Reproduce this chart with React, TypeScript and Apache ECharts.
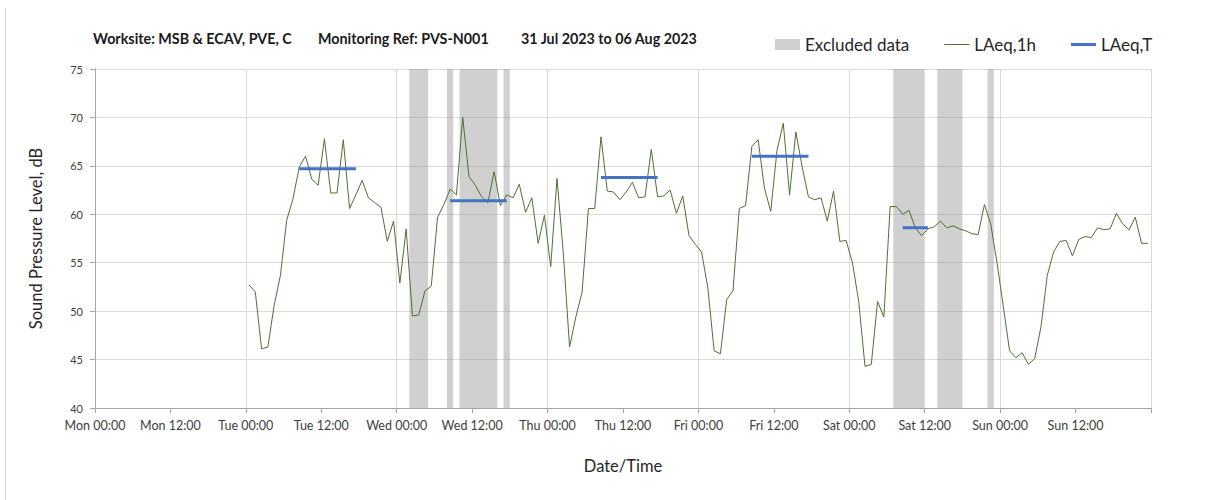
import React, { useEffect, useRef } from 'react';
import * as echarts from 'echarts';

// X axis: hours since Mon 00:00, tick every 12 h
const xTickLabels = [
  'Mon 00:00', 'Mon 12:00', 'Tue 00:00', 'Tue 12:00', 'Wed 00:00', 'Wed 12:00',
  'Thu 00:00', 'Thu 12:00', 'Fri 00:00', 'Fri 12:00', 'Sat 00:00', 'Sat 12:00',
  'Sun 00:00', 'Sun 12:00',
];

// LAeq,1h hourly values, first value plotted at Tue 00:30 (hour 24.5), one per hour
const firstHour = 24.5;
const laeq1h = [
  52.7, 52.0, 46.1, 46.3, 50.6, 53.7, 59.4, 61.6, 64.9, 66.0, 63.6, 63.0,
  67.8, 62.2, 62.2, 67.7, 60.6, 62.0, 63.5, 61.7, 61.2, 60.7, 57.2, 59.3,
  52.9, 58.5, 49.5, 49.6, 52.1, 52.6, 59.7, 61.0, 62.6, 62.0, 70.0, 63.9,
  63.0, 61.8, 61.2, 64.4, 60.9, 62.0, 61.7, 63.1, 60.2, 61.7, 57.0, 59.9,
  54.6, 63.7, 56.0, 46.3, 49.4, 52.0, 60.6, 60.6, 68.0, 62.4, 62.3, 61.5,
  62.3, 63.3, 61.7, 61.8, 66.7, 61.8, 61.9, 62.5, 60.1, 61.9, 57.8, 56.9,
  56.1, 52.4, 45.9, 45.6, 51.2, 52.1, 60.6, 60.9, 67.0, 67.7, 62.7, 60.3,
  66.6, 69.4, 62.0, 68.5, 64.9, 61.8, 61.5, 61.7, 59.3, 62.4, 57.2, 57.3,
  55.0, 51.0, 44.3, 44.5, 51.0, 49.4, 60.8, 60.8, 60.0, 60.4, 58.6, 57.8,
  58.5, 58.7, 59.3, 58.6, 58.8, 58.5, 58.3, 58.0, 57.9, 61.0, 59.0, 55.0,
  50.5, 45.9, 45.2, 45.7, 44.5, 45.1, 48.4, 53.7, 56.1, 57.2, 57.3, 55.7,
  57.4, 57.7, 57.6, 58.6, 58.4, 58.5, 60.1, 59.0, 58.4, 59.7, 57.0, 57.0,
];

// LAeq,T daytime periods (hours since Mon 00:00)
const periodStart = [32.5, 56.5, 80.5, 104.5, 128.5];
const periodEnd = [41.5, 65.5, 89.5, 113.5, 132.5];
const periodValue = [64.7, 61.4, 63.8, 66.0, 58.6];

// Excluded data bands (hours since Mon 00:00)
const bandStart = [50, 56, 58, 65, 127, 134, 142];
const bandEnd = [53, 57, 64, 66, 132, 138, 143];

const FONT = 'Lato, "Open Sans", sans-serif';

export default function App() {
  const ref = useRef<HTMLDivElement>(null);

  useEffect(() => {
    document.body.style.margin = '0';
    const chart = echarts.init(ref.current!, null, { renderer: 'svg' });

    const lineData = laeq1h.map((v, i) => [firstHour + i, v]);

    const periodSeries = periodValue.map((v, i) => ({
      name: 'LAeq,T',
      type: 'line',
      data: [[periodStart[i], v], [periodEnd[i], v]],
      showSymbol: false,
      symbol: 'none',
      color: '#4472C4',
      lineStyle: { color: '#4472C4', width: 3 },
      z: 4,
    }));

    const titleStyle = {
      fontFamily: FONT, fontWeight: 'bold', fontSize: 14.3, fill: '#1a1a1a', verticalAlign: 'middle',
    };

    chart.setOption({
      animation: false,
      textStyle: { fontFamily: FONT },
      grid: { left: 95, right: 57, top: 69, bottom: 92, containLabel: false },
      legend: {
        left: 770,
        top: 31,
        itemWidth: 25,
        itemHeight: 11,
        itemGap: 35,
        symbolKeepAspect: true,
        textStyle: { fontSize: 17, color: '#262626', fontFamily: FONT },
        data: [
          { name: 'Excluded data', icon: 'rect', itemStyle: { color: '#d0d0d0' } },
          { name: 'LAeq,1h', icon: 'path://M0 0H25V1H0Z', itemStyle: { color: '#4f7032' } },
          { name: 'LAeq,T', icon: 'path://M0 0H25V3H0Z', itemStyle: { color: '#4472C4' } },
        ],
      },
      graphic: [
        {
          type: 'line',
          shape: { x1: 5.5, y1: 8, x2: 5.5, y2: 500 },
          style: { stroke: '#d9d9d9', lineWidth: 1 },
          silent: true,
        },
        { type: 'text', x: 93, y: 38, style: { ...titleStyle, text: 'Worksite: MSB & ECAV, PVE, C' } },
        { type: 'text', x: 318, y: 38, style: { ...titleStyle, text: 'Monitoring Ref: PVS-N001' } },
        { type: 'text', x: 521, y: 38, style: { ...titleStyle, text: '31 Jul 2023 to 06 Aug 2023' } },
      ],
      xAxis: [
        {
          type: 'value',
          min: 0,
          max: 168,
          interval: 12,
          name: 'Date/Time',
          nameLocation: 'middle',
          nameGap: 49,
          nameTextStyle: { fontSize: 16.5, color: '#262626', fontFamily: FONT },
          axisLine: { show: true, onZero: false, lineStyle: { color: '#a6a6a6' } },
          axisTick: { show: true, length: 5, lineStyle: { color: '#a6a6a6' } },
          axisLabel: {
            fontSize: 12.5,
            color: '#404040',
            margin: 11,
            showMaxLabel: true,
            formatter: (v: number) => xTickLabels[Math.round(v / 12)] || '',
          },
          splitLine: { show: false },
        },
        {
          type: 'value',
          min: 0,
          max: 168,
          interval: 24,
          position: 'bottom',
          axisLine: { show: false },
          axisTick: { show: false },
          axisLabel: { show: false },
          splitLine: { show: true, lineStyle: { color: '#d9d9d9', width: 1 } },
        },
      ],
      yAxis: [
        {
          type: 'value',
          min: 40,
          max: 75,
          interval: 5,
          name: 'Sound Pressure Level, dB',
          nameLocation: 'middle',
          nameGap: 51,
          nameTextStyle: { fontSize: 16.5, color: '#262626', fontFamily: FONT },
          axisLine: { show: true, lineStyle: { color: '#a6a6a6' } },
          axisTick: { show: true, length: 5, lineStyle: { color: '#a6a6a6' } },
          axisLabel: { fontSize: 11, color: '#404040', margin: 12 },
          splitLine: { show: true, lineStyle: { color: '#d9d9d9', width: 1 } },
        },
        {
          type: 'value',
          min: 40,
          max: 75,
          interval: 5,
          position: 'right',
          axisLine: { show: true, lineStyle: { color: '#a6a6a6' } },
          axisTick: { show: false },
          axisLabel: { show: false },
          splitLine: { show: false },
        },
      ],
      series: [
        {
          name: 'Excluded data',
          type: 'line',
          data: [],
          color: '#d0d0d0',
          itemStyle: { color: '#d0d0d0' },
          symbol: 'none',
          z: 1,
          markArea: {
            silent: true,
            itemStyle: { color: 'rgba(150,150,150,0.45)' },
            data: bandStart.map((s, i) => [{ xAxis: s }, { xAxis: bandEnd[i] }]),
          },
        },
        {
          name: 'LAeq,1h',
          type: 'line',
          data: lineData,
          showSymbol: false,
          symbol: 'none',
          color: '#4f7032',
          lineStyle: { color: '#4f7032', width: 1 },
          z: 3,
        },
        ...periodSeries,
      ],
    });

    return () => chart.dispose();
  }, []);

  return <div ref={ref} style={{ width: 1208, height: 500 }} />;
}
